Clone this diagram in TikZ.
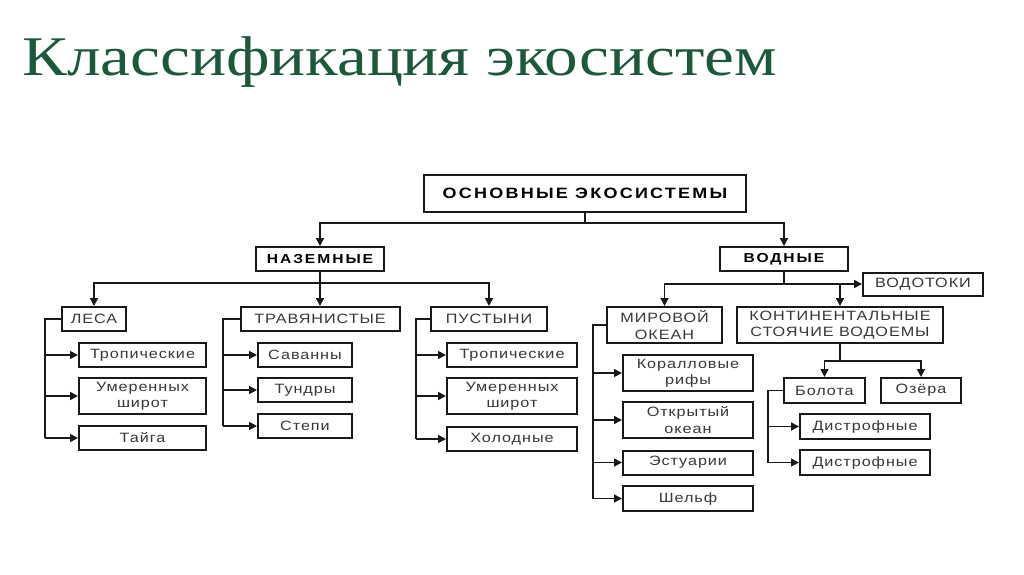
\documentclass[tikz,border=0pt]{standalone}
\usepackage{fontspec}
\usetikzlibrary{arrows.meta}
\setmainfont{Liberation Sans}
\newfontfamily\ttlfont{Liberation Serif}[FakeStretch=1.2]
\newfontfamily\rfnt{Liberation Sans}[FakeStretch=1.2,LetterSpace=7]
\newfontfamily\bfnt{Liberation Sans}[FakeStretch=1.2,LetterSpace=15]
\definecolor{ttlgreen}{RGB}{28,88,58}
\definecolor{inkc}{RGB}{25,25,25}
\definecolor{txtc}{RGB}{55,55,55}
\tikzset{
  box/.style={draw=inkc, line width=2pt, inner sep=0pt, align=center, fill=white},
  lbl/.style={box, text=txtc, font=\rfnt\fontsize{13.5}{16.5}\selectfont},
  hdr/.style={box, text=black, font=\bfnt\bfseries\fontsize{13}{15}\selectfont},
  ln/.style={draw=inkc, line width=1.6pt},
  arr/.style={ln, -{Triangle[length=8pt,width=8pt]}},
  ttl/.style={inner sep=0pt, text=ttlgreen, font=\ttlfont\fontsize{56}{62}\selectfont}
}
\begin{document}
\begin{tikzpicture}[x=1pt,y=-1pt]
\useasboundingbox[fill=white] (0,0) rectangle (1024,574);
\node[ttl, anchor=base west] (title) at (22,75) {Классификация экосистем};

% level 1
\node[hdr, font=\bfnt\bfseries\fontsize{15}{17}\selectfont, minimum width=322pt, minimum height=37pt] (main) at (585,193.5) {ОСНОВНЫЕ ЭКОСИСТЕМЫ};
% level 2
\node[hdr, minimum width=128pt, minimum height=24pt] (naz) at (320,259) {НАЗЕМНЫЕ};
\node[hdr, minimum width=128pt, minimum height=24pt] (vod) at (784,259) {ВОДНЫЕ};
\node[lbl, minimum width=120pt, minimum height=23pt] (vodotoki) at (923,284) {ВОДОТОКИ};
% level 3 land
\node[lbl, minimum width=64pt, minimum height=24pt] (lesa) at (94,319) {ЛЕСА};
\node[lbl, minimum width=159pt, minimum height=24pt] (trav) at (320,319) {ТРАВЯНИСТЫЕ};
\node[lbl, minimum width=116pt, minimum height=24pt] (pust) at (489,319) {ПУСТЫНИ};
% forests
\node[lbl, minimum width=127pt, minimum height=24pt] (trop1) at (142.5,355) {Тропические};
\node[lbl, minimum width=127pt, minimum height=36pt] (umer1) at (142.5,396) {Умеренных\\широт};
\node[lbl, minimum width=127pt, minimum height=24pt] (taiga) at (142.5,438) {Тайга};
% grasslands
\node[lbl, minimum width=94pt, minimum height=24pt] (sav) at (305,355) {Саванны};
\node[lbl, minimum width=94pt, minimum height=24pt] (tund) at (305,390) {Тундры};
\node[lbl, minimum width=94pt, minimum height=24pt] (step) at (305,426) {Степи};
% deserts
\node[lbl, minimum width=130pt, minimum height=24pt] (trop2) at (512,355) {Тропические};
\node[lbl, minimum width=130pt, minimum height=36pt] (umer2) at (512,396) {Умеренных\\широт};
\node[lbl, minimum width=130pt, minimum height=24pt] (hol) at (512,439) {Холодные};
% water
\node[lbl, minimum width=115pt, minimum height=36pt] (mir) at (664.5,325) {МИРОВОЙ\\ОКЕАН};
\node[lbl, minimum width=206pt, minimum height=36pt] (kont) at (840,325) {КОНТИНЕНТАЛЬНЫЕ\\СТОЯЧИЕ ВОДОЕМЫ};
\node[lbl, minimum width=130pt, minimum height=36pt] (kor) at (688,373) {Коралловые\\рифы};
\node[lbl, minimum width=130pt, minimum height=36pt] (otkr) at (688,420) {Открытый\\океан};
\node[lbl, minimum width=130pt, minimum height=24pt] (est) at (688,462.5) {Эстуарии};
\node[lbl, minimum width=130pt, minimum height=25pt] (shelf) at (688,498.5) {Шельф};
\node[lbl, minimum width=81pt, minimum height=25pt] (bol) at (824.5,390.5) {Болота};
\node[lbl, minimum width=80pt, minimum height=25pt] (oz) at (921,390.5) {Озёра};
\node[lbl, minimum width=130pt, minimum height=25pt] (dis1) at (865,426.5) {Дистрофные};
\node[lbl, minimum width=130pt, minimum height=25pt] (dis2) at (865,462.5) {Дистрофные};

% connectors top
\coordinate (j1) at (585,223);
\draw[ln] (main.south) -- (j1);
\draw[arr] (j1) -| (naz.north);
\draw[arr] (j1) -| (vod.north);
\coordinate (j2) at (320,283);
\draw[ln] (naz.south) -- (j2);
\draw[arr] (j2) -| (lesa.north);
\draw[arr] (j2) -- (trav.north);
\draw[arr] (j2) -| (pust.north);
\coordinate (j3) at (784,284);
\draw[ln] (vod.south) -- (j3);
\draw[arr] (j3) -| (mir.north);
\draw[arr] (j3) -| (kont.north);
\draw[arr] (j3) -- (vodotoki.west);
\coordinate (j4) at (840,361);
\draw[ln] (kont.south) -- (j4);
\draw[arr] (j4) -| (bol.north);
\draw[arr] (j4) -| (oz.north);

% brackets
\coordinate (b1) at (45,319);
\draw[ln] (lesa.west) -- (b1) -- (b1 |- taiga.west);
\foreach \n in {trop1,umer1,taiga} \draw[arr] (b1 |- \n.west) -- (\n.west);
\coordinate (b2) at (223,319);
\draw[ln] (trav.west) -- (b2) -- (b2 |- step.west);
\foreach \n in {sav,tund,step} \draw[arr] (b2 |- \n.west) -- (\n.west);
\coordinate (b3) at (416,319);
\draw[ln] (pust.west) -- (b3) -- (b3 |- hol.west);
\foreach \n in {trop2,umer2,hol} \draw[arr] (b3 |- \n.west) -- (\n.west);
\coordinate (b4) at (593,325);
\draw[ln] (mir.west) -- (b4) -- (b4 |- shelf.west);
\foreach \n in {kor,otkr,est,shelf} \draw[arr] (b4 |- \n.west) -- (\n.west);
\coordinate (b5) at (768,390.5);
\draw[ln] (bol.west) -- (b5) -- (b5 |- dis2.west);
\foreach \n in {dis1,dis2} \draw[arr] (b5 |- \n.west) -- (\n.west);
\end{tikzpicture}
\end{document}
